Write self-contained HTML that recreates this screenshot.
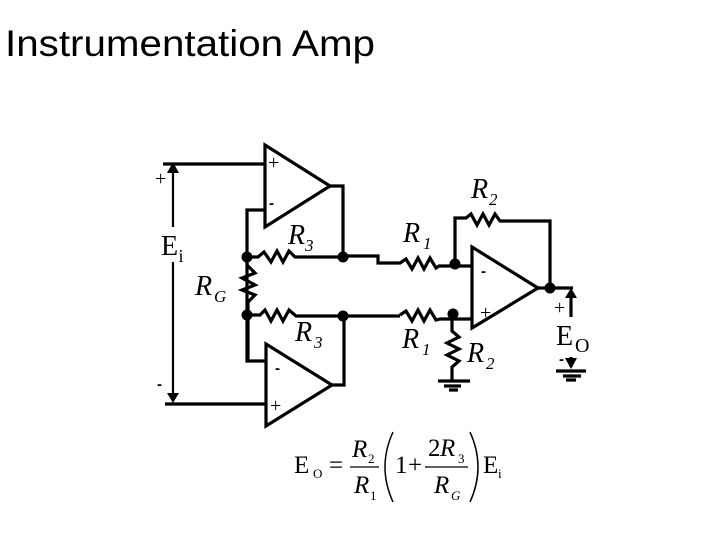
<!DOCTYPE html>
<html><head><meta charset="utf-8"><style>
html,body{margin:0;padding:0;background:#fff}
svg{display:block}
text{fill:#000}
.t{font-family:"Liberation Serif",serif}
.i{font-style:italic}
.s{font-family:"Liberation Sans",sans-serif}
</style></head><body>
<svg width="720" height="540" viewBox="0 0 720 540" xmlns="http://www.w3.org/2000/svg">
<rect width="720" height="540" fill="#fff"/>
<text class="s" x="5" y="56" font-size="37" textLength="370" lengthAdjust="spacingAndGlyphs">Instrumentation Amp</text>
<g fill="none" stroke="#000" stroke-width="3.2">
<path d="M265 145V227L330 186Z"/>
<path d="M266 344V426L332 385Z"/>
<path d="M472 247V328L538 288Z"/>
<path d="M163 164H265M265 210H247V361H266M330 186H343V256H378V263H400l6-4 6 10 6-11 6 11 6-11 6 10 3-2H472"/>
<path d="M247 257H258l6-5 7 10 6-11 6 11 6-11 6 6H343"/>
<path d="M247 257V265l8 8-13 5 13 7-13 5 13 5-7 7V361"/>
<path d="M247 315H260l5-5 6 11 6-11 6 11 6-11 7 6H400"/>
<path d="M332 385H344V316"/>
<path d="M165 404H265"/>
<path d="M455 264V218H466l5-4 6 11 6-11 6 11 6-11 5 7H550V288M538 288H573"/>
<path d="M400 315l6-4 6 10 6-11 6 11 6-11 6 10 4-1H472"/>
<path d="M452 315V331l7 6-12 6 12 6-12 6 12 6-7 6V381"/>
<path d="M438 381H470M444 386H461M449 390H458"/>
<path d="M571 292V317"/>
<path d="M571 357V367"/>
<path d="M556 371H586M563 376H581M566 380H576"/>
</g>
<path d="M173 166V227M173 262V395" stroke="#000" stroke-width="2.2" fill="none"/>
<path d="M173 162L179 173H167ZM173 403L167 393H179ZM571 288L577 298H565ZM571 369L565 358H577Z" fill="#000"/>
<g fill="#000">
<circle cx="247" cy="257" r="5.5"/><circle cx="343" cy="257" r="5.5"/>
<circle cx="247" cy="315" r="5.5"/><circle cx="343" cy="316" r="5.5"/>
<circle cx="455" cy="264" r="5.5"/><circle cx="453" cy="314" r="5.5"/>
<circle cx="550" cy="288" r="5.5"/>
</g>
<g class="t" font-size="20">
<text x="268" y="169">+</text>
<text x="155" y="185">+</text>
<text x="270" y="412">+</text>
<text x="480" y="319">+</text>
<text x="554" y="314">+</text>
</g>
<g class="s" font-size="15" font-weight="bold">
<text x="269" y="208">-</text>
<text x="157" y="389">-</text>
<text x="275" y="373">-</text>
<text x="481" y="276">-</text>
<text x="559" y="364">-</text>
</g>
<g class="t">
<g class="i" font-size="28">
<text x="471" y="198">R</text>
<text x="288" y="244">R</text>
<text x="295" y="341">R</text>
<text x="403" y="242">R</text>
<text x="402" y="348">R</text>
<text x="467" y="362">R</text>
<text x="195" y="295">R</text>
</g>
<g class="i" font-size="17">
<text x="489" y="205">2</text>
<text x="305" y="251">3</text>
<text x="314" y="348">3</text>
<text x="423" y="249">1</text>
<text x="422" y="355">1</text>
<text x="486" y="369">2</text>
<text x="214" y="302">G</text>
</g>
<text x="161" y="255" font-size="28">E</text><text x="178.500" y="262" font-size="18">i</text>
<text x="556" y="345" font-size="28">E</text><text x="575" y="352" font-size="20">O</text>
</g>
<g class="t">
<text x="294" y="473" font-size="25">E</text><text x="313" y="478" font-size="13">O</text>
<text x="329" y="473" font-size="25">=</text>
<text class="i" x="352" y="457" font-size="25">R</text><text x="368" y="463" font-size="13">2</text>
<path d="M350 467H379" stroke="#000" stroke-width="1.3"/>
<text class="i" x="354" y="493" font-size="25">R</text><text x="370" y="500" font-size="13">1</text>
<path d="M393 432Q377 467 393 502" fill="none" stroke="#000" stroke-width="1.5"/>
<text x="395" y="473" font-size="25">1</text>
<text x="408" y="473" font-size="25">+</text>
<text x="428" y="456" font-size="25">2</text><text class="i" x="440" y="456" font-size="25">R</text><text x="458" y="463" font-size="13">3</text>
<path d="M425 467H468" stroke="#000" stroke-width="1.3"/>
<text class="i" x="434" y="493" font-size="25">R</text><text class="i" x="451" y="500" font-size="13">G</text>
<path d="M470 432Q486 467 470 502" fill="none" stroke="#000" stroke-width="1.5"/>
<text x="483" y="473" font-size="25">E</text><text x="498" y="478" font-size="13">i</text>
</g>
</svg>
</body></html>
